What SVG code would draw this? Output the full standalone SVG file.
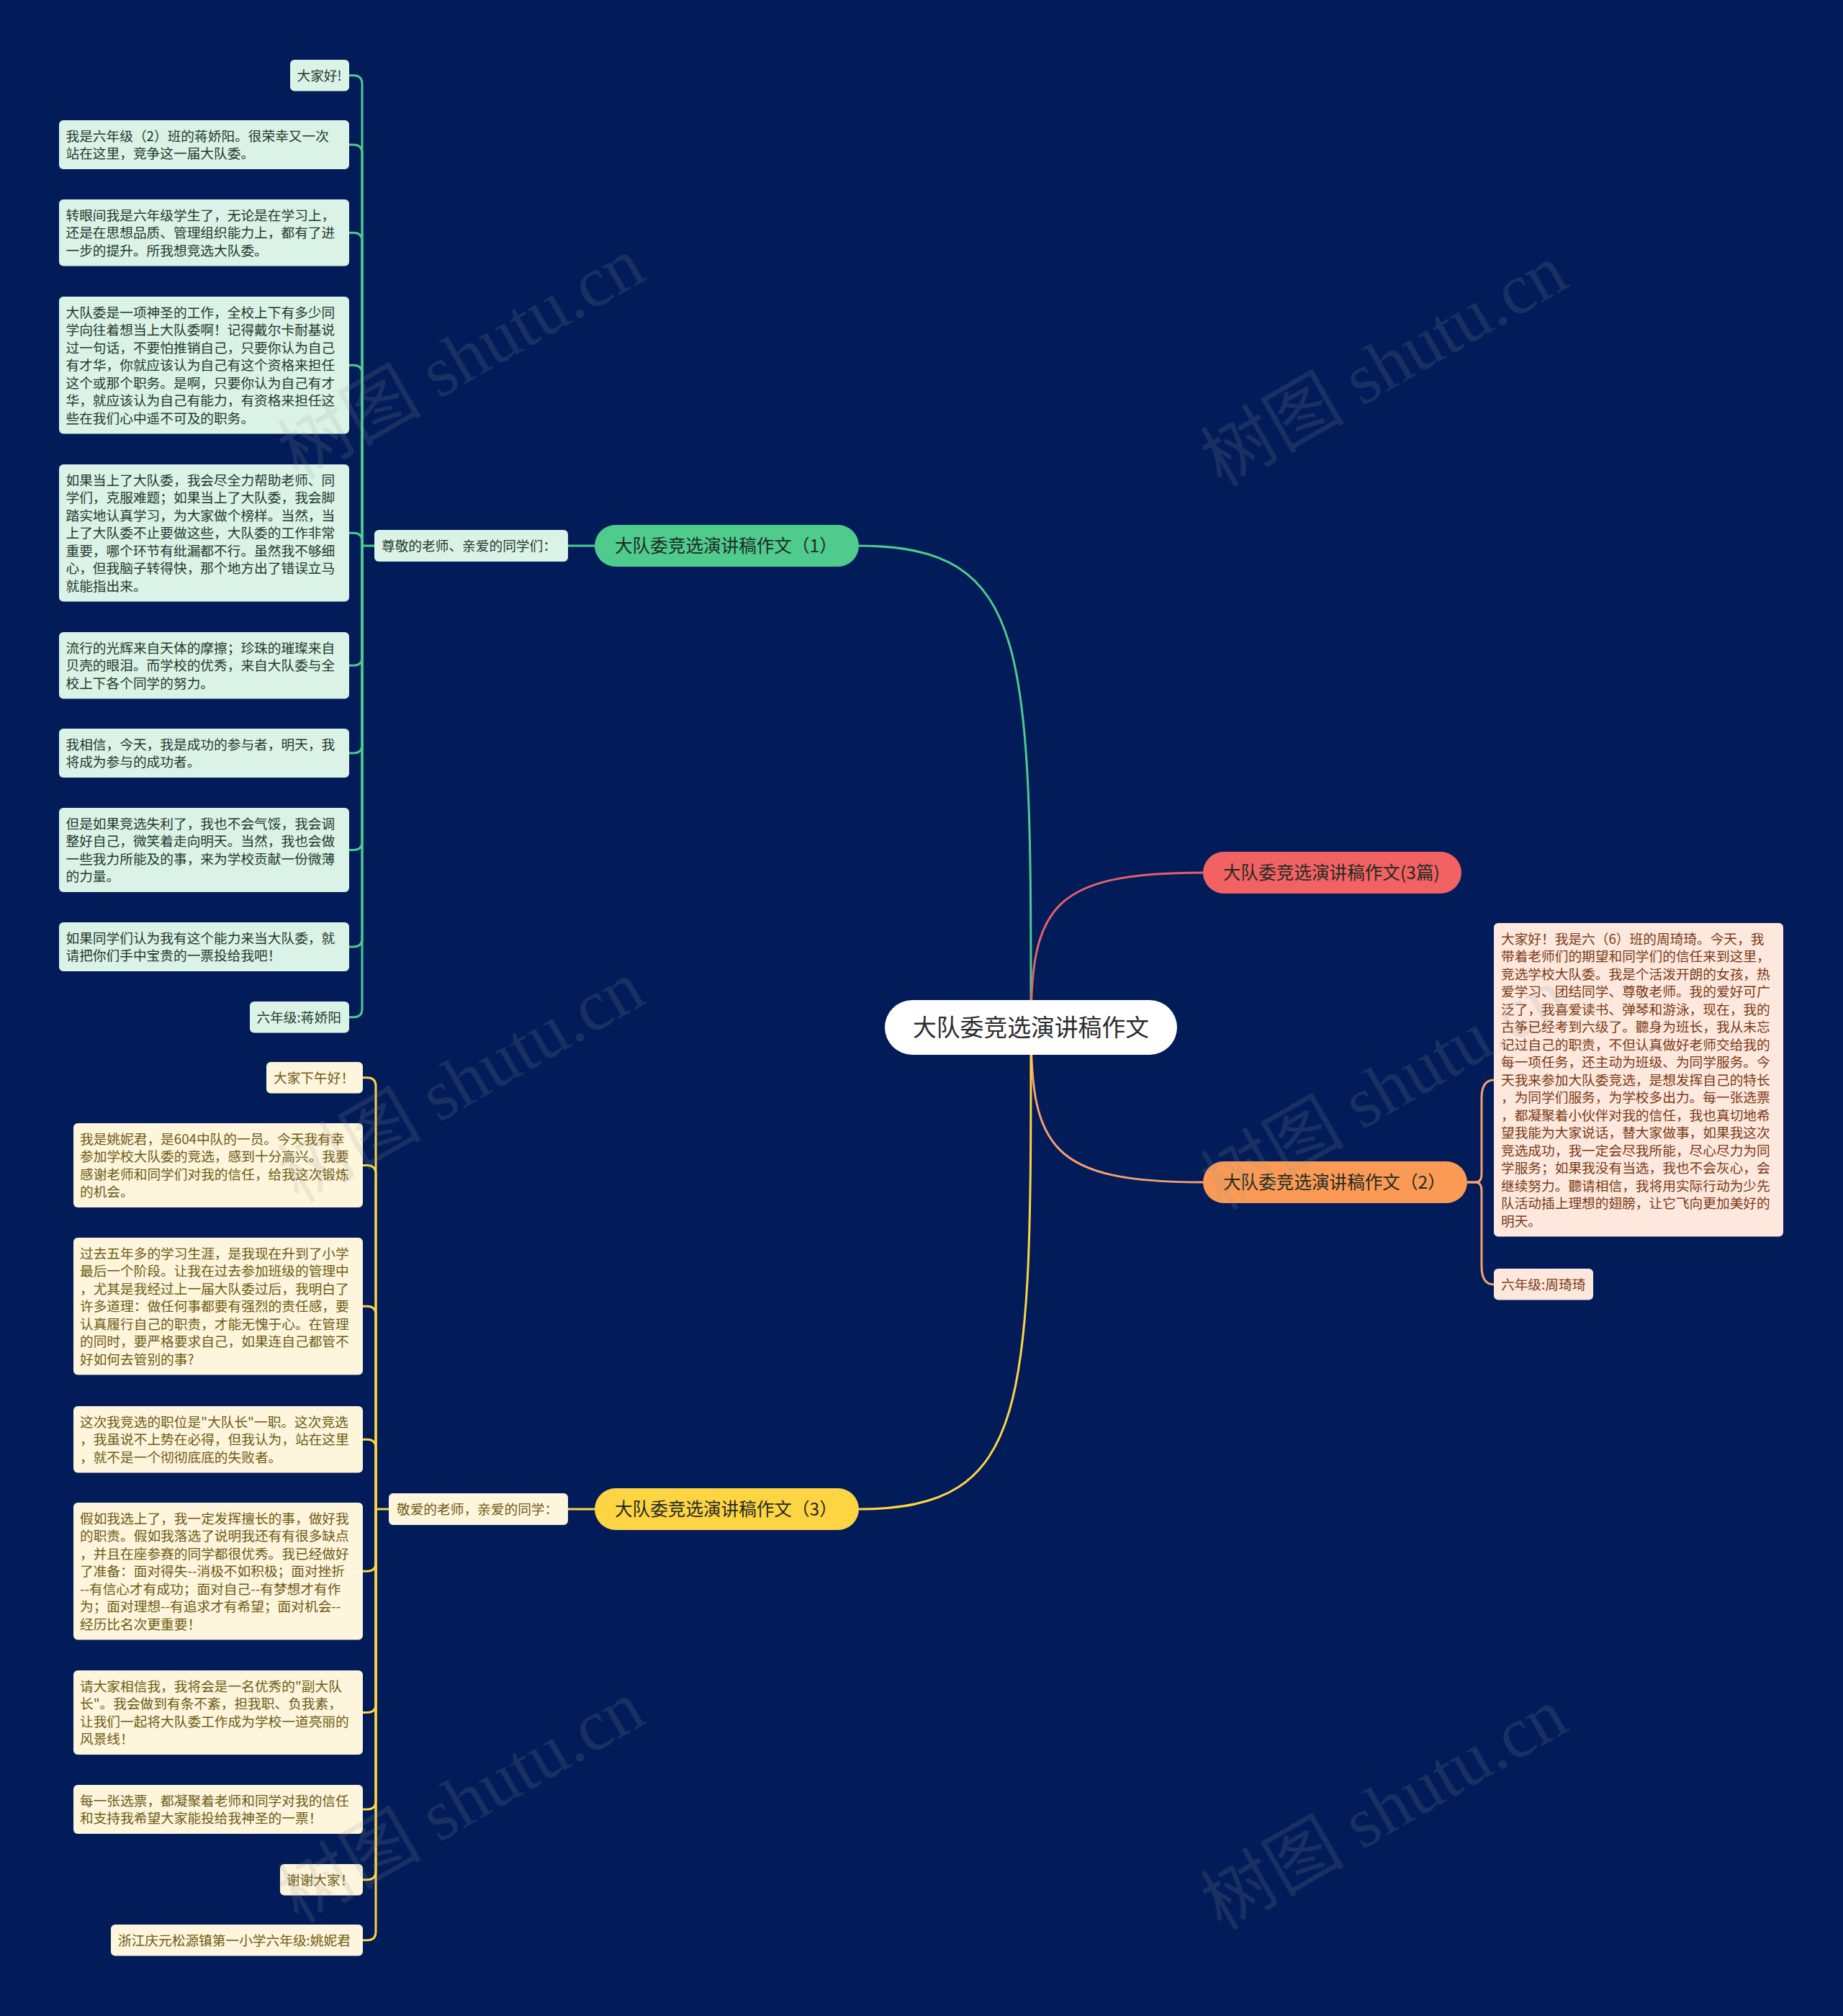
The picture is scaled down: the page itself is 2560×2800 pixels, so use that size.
<svg xmlns="http://www.w3.org/2000/svg" width="2560" height="2800" viewBox="0 0 2560 2800">
<style>
text{font-family:"Noto Sans CJK SC","Noto Sans",sans-serif;}
.leaf{font-size:18.7px;}
.g-box{fill:#dbf3e6;}
.g-txt{fill:#24382c;}
.y-box{fill:#fdf6dc;}
.y-txt{fill:#6f5a14;}
.o-box{fill:#fde8de;}
.o-txt{fill:#7b3a13;}
.branch{font-size:24.6px;fill:#1f2a24;}
.con{fill:none;stroke-width:3;stroke-linecap:round;}
.cg{stroke:#4ecb8d;}
.cy{stroke:#fdd442;}
.co{stroke:#f7a06c;}
.cp{stroke:#e4606a;}
.wm{font-size:100px;fill:#9a9a9a;opacity:0.16;font-family:"Liberation Serif","Noto Sans CJK SC",serif;}
</style>
<rect width="2560" height="2800" fill="#011c58"/>

<g id="connectors">
  <path class="con cg" d="M1432,1427 C1432,900 1432,758 1193,758"/>
  <path class="con cp" d="M1432,1427 C1432,1260 1460,1212 1671,1212"/>
  <path class="con co" d="M1432,1427 C1432,1594 1460,1642 1671,1642"/>
  <path class="con cy" d="M1432,1427 C1432,1954 1432,2096 1193,2096"/>

  <path class="con cg" d="M826,758 H789"/>
  <path class="con cg" d="M520,758 H503"/>
  <path class="con cg" d="M503,758 V116.75 Q503,104.75 491,104.75 H485"/>
  <path class="con cg" d="M503,758 V213 Q503,201 491,201 H485"/>
  <path class="con cg" d="M503,758 V335.25 Q503,323.25 491,323.25 H485"/>
  <path class="con cg" d="M503,758 V519.25 Q503,507.25 491,507.25 H485"/>
  <path class="con cg" d="M503,758 V752.25 Q503,740.25 491,740.25 H485"/>
  <path class="con cg" d="M503,758 V912.25 Q503,924.25 491,924.25 H485"/>
  <path class="con cg" d="M503,758 V1034 Q503,1046 491,1046 H485"/>
  <path class="con cg" d="M503,758 V1168.5 Q503,1180.5 491,1180.5 H485"/>
  <path class="con cg" d="M503,758 V1303 Q503,1315 491,1315 H485"/>
  <path class="con cg" d="M503,758 V1400.75 Q503,1412.75 491,1412.75 H485"/>

  <path class="con co" d="M2038,1642 H2050 Q2058,1642 2058,1630 V1525 Q2058,1500 2075,1500"/>
  <path class="con co" d="M2038,1642 H2050 Q2058,1642 2058,1654 V1759 Q2058,1784 2075,1784"/>

  <path class="con cy" d="M826,2096 H789"/>
  <path class="con cy" d="M540,2096 H522"/>
  <path class="con cy" d="M522,2096 V1508.75 Q522,1496.75 510,1496.75 H504"/>
  <path class="con cy" d="M522,2096 V1630.5 Q522,1618.5 510,1618.5 H504"/>
  <path class="con cy" d="M522,2096 V1826.25 Q522,1814.25 510,1814.25 H504"/>
  <path class="con cy" d="M522,2096 V2011.25 Q522,1999.25 510,1999.25 H504"/>
  <path class="con cy" d="M522,2096 V2170.25 Q522,2182.25 510,2182.25 H504"/>
  <path class="con cy" d="M522,2096 V2366.5 Q522,2378.5 510,2378.5 H504"/>
  <path class="con cy" d="M522,2096 V2501 Q522,2513 510,2513 H504"/>
  <path class="con cy" d="M522,2096 V2598.75 Q522,2610.75 510,2610.75 H504"/>
  <path class="con cy" d="M522,2096 V2682.75 Q522,2694.75 510,2694.75 H504"/>
</g>

<g id="center">
  <rect x="1229" y="1389" width="406" height="76" rx="38" fill="#ffffff"/>
  <text x="1432" y="1439" text-anchor="middle" font-size="32.8" fill="#2b2b2b">大队委竞选演讲稿作文</text>
</g>

<g id="branch-1">
  <rect x="826" y="729" width="367" height="58" rx="29" fill="#4ecb8d"/>
  <text class="branch" x="854" y="767">大队委竞选演讲稿作文（1）</text>
</g>
<g id="branch-3pian">
  <rect x="1671" y="1183" width="359" height="58" rx="29" fill="#f26262"/>
  <text class="branch" x="1699" y="1221">大队委竞选演讲稿作文(3篇)</text>
</g>
<g id="branch-2">
  <rect x="1671" y="1613" width="367" height="58" rx="29" fill="#fa9a54"/>
  <text class="branch" x="1699" y="1651">大队委竞选演讲稿作文（2）</text>
</g>
<g id="branch-3">
  <rect x="826" y="2067" width="367" height="58" rx="29" fill="#fdd442"/>
  <text class="branch" x="854" y="2105">大队委竞选演讲稿作文（3）</text>
</g>

<g id="label-1">
  <rect class="g-box" x="520" y="736" width="269" height="44" rx="6"/>
  <text class="leaf g-txt" x="530" y="765">尊敬的老师、亲爱的同学们：</text>
</g>
<g id="label-3">
  <rect class="y-box" x="540" y="2074" width="249" height="44" rx="6"/>
  <text class="leaf y-txt" x="551" y="2103">敬爱的老师，亲爱的同学：</text>
</g>

<g id="g-leaf-1">
  <rect class="g-box" x="403" y="83" width="82" height="43.5" rx="6"/>
  <text class="leaf g-txt" x="412.5" y="111.75">大家好!</text>
</g>
<g id="g-leaf-2">
  <rect class="g-box" x="82" y="167" width="403" height="68" rx="6"/>
  <text class="leaf g-txt" x="91.5" y="195.75"><tspan x="91.5">我是六年级（2）班的蒋娇阳。很荣幸又一次</tspan><tspan x="91.5" dy="24.5">站在这里，竞争这一届大队委。</tspan></text>
</g>
<g id="g-leaf-3">
  <rect class="g-box" x="82" y="277" width="403" height="92.5" rx="6"/>
  <text class="leaf g-txt" x="91.5" y="305.75"><tspan x="91.5">转眼间我是六年级学生了，无论是在学习上，</tspan><tspan x="91.5" dy="24.5">还是在思想品质、管理组织能力上，都有了进</tspan><tspan x="91.5" dy="24.5">一步的提升。所我想竞选大队委。</tspan></text>
</g>
<g id="g-leaf-4">
  <rect class="g-box" x="82" y="412" width="403" height="190.5" rx="6"/>
  <text class="leaf g-txt" x="91.5" y="440.75"><tspan x="91.5">大队委是一项神圣的工作，全校上下有多少同</tspan><tspan x="91.5" dy="24.5">学向往着想当上大队委啊！记得戴尔卡耐基说</tspan><tspan x="91.5" dy="24.5">过一句话，不要怕推销自己，只要你认为自己</tspan><tspan x="91.5" dy="24.5">有才华，你就应该认为自己有这个资格来担任</tspan><tspan x="91.5" dy="24.5">这个或那个职务。是啊，只要你认为自己有才</tspan><tspan x="91.5" dy="24.5">华，就应该认为自己有能力，有资格来担任这</tspan><tspan x="91.5" dy="24.5">些在我们心中遥不可及的职务。</tspan></text>
</g>
<g id="g-leaf-5">
  <rect class="g-box" x="82" y="645" width="403" height="190.5" rx="6"/>
  <text class="leaf g-txt" x="91.5" y="673.75"><tspan x="91.5">如果当上了大队委，我会尽全力帮助老师、同</tspan><tspan x="91.5" dy="24.5">学们，克服难题；如果当上了大队委，我会脚</tspan><tspan x="91.5" dy="24.5">踏实地认真学习，为大家做个榜样。当然，当</tspan><tspan x="91.5" dy="24.5">上了大队委不止要做这些，大队委的工作非常</tspan><tspan x="91.5" dy="24.5">重要，哪个环节有纰漏都不行。虽然我不够细</tspan><tspan x="91.5" dy="24.5">心，但我脑子转得快，那个地方出了错误立马</tspan><tspan x="91.5" dy="24.5">就能指出来。</tspan></text>
</g>
<g id="g-leaf-6">
  <rect class="g-box" x="82" y="878" width="403" height="92.5" rx="6"/>
  <text class="leaf g-txt" x="91.5" y="906.75"><tspan x="91.5">流行的光辉来自天体的摩擦；珍珠的璀璨来自</tspan><tspan x="91.5" dy="24.5">贝壳的眼泪。而学校的优秀，来自大队委与全</tspan><tspan x="91.5" dy="24.5">校上下各个同学的努力。</tspan></text>
</g>
<g id="g-leaf-7">
  <rect class="g-box" x="82" y="1012" width="403" height="68" rx="6"/>
  <text class="leaf g-txt" x="91.5" y="1040.75"><tspan x="91.5">我相信，今天，我是成功的参与者，明天，我</tspan><tspan x="91.5" dy="24.5">将成为参与的成功者。</tspan></text>
</g>
<g id="g-leaf-8">
  <rect class="g-box" x="82" y="1122" width="403" height="117" rx="6"/>
  <text class="leaf g-txt" x="91.5" y="1150.75"><tspan x="91.5">但是如果竞选失利了，我也不会气馁，我会调</tspan><tspan x="91.5" dy="24.5">整好自己，微笑着走向明天。当然，我也会做</tspan><tspan x="91.5" dy="24.5">一些我力所能及的事，来为学校贡献一份微薄</tspan><tspan x="91.5" dy="24.5">的力量。</tspan></text>
</g>
<g id="g-leaf-9">
  <rect class="g-box" x="82" y="1281" width="403" height="68" rx="6"/>
  <text class="leaf g-txt" x="91.5" y="1309.75"><tspan x="91.5">如果同学们认为我有这个能力来当大队委，就</tspan><tspan x="91.5" dy="24.5">请把你们手中宝贵的一票投给我吧！</tspan></text>
</g>
<g id="g-leaf-10">
  <rect class="g-box" x="347" y="1391" width="138" height="43.5" rx="6"/>
  <text class="leaf g-txt" x="356.5" y="1419.75">六年级:蒋娇阳</text>
</g>

<g id="o-leaf-1">
  <rect class="o-box" x="2075" y="1282" width="402" height="435.5" rx="6"/>
  <text class="leaf o-txt" x="2085" y="1310.75"><tspan x="2085">大家好！我是六（6）班的周琦琦。今天，我</tspan><tspan x="2085" dy="24.5">带着老师们的期望和同学们的信任来到这里，</tspan><tspan x="2085" dy="24.5">竞选学校大队委。我是个活泼开朗的女孩，热</tspan><tspan x="2085" dy="24.5">爱学习、团结同学、尊敬老师。我的爱好可广</tspan><tspan x="2085" dy="24.5">泛了，我喜爱读书、弹琴和游泳，现在，我的</tspan><tspan x="2085" dy="24.5">古筝已经考到六级了。聽身为班长，我从未忘</tspan><tspan x="2085" dy="24.5">记过自己的职责，不但认真做好老师交给我的</tspan><tspan x="2085" dy="24.5">每一项任务，还主动为班级、为同学服务。今</tspan><tspan x="2085" dy="24.5">天我来参加大队委竞选，是想发挥自己的特长</tspan><tspan x="2085" dy="24.5">，为同学们服务，为学校多出力。每一张选票</tspan><tspan x="2085" dy="24.5">，都凝聚着小伙伴对我的信任，我也真切地希</tspan><tspan x="2085" dy="24.5">望我能为大家说话，替大家做事，如果我这次</tspan><tspan x="2085" dy="24.5">竞选成功，我一定会尽我所能，尽心尽力为同</tspan><tspan x="2085" dy="24.5">学服务；如果我没有当选，我也不会灰心，会</tspan><tspan x="2085" dy="24.5">继续努力。聽请相信，我将用实际行动为少先</tspan><tspan x="2085" dy="24.5">队活动插上理想的翅膀，让它飞向更加美好的</tspan><tspan x="2085" dy="24.5">明天。</tspan></text>
</g>
<g id="o-leaf-2">
  <rect class="o-box" x="2075" y="1762" width="138" height="43.5" rx="6"/>
  <text class="leaf o-txt" x="2085" y="1790.75">六年级:周琦琦</text>
</g>

<g id="y-leaf-1">
  <rect class="y-box" x="370" y="1475" width="134" height="43.5" rx="6"/>
  <text class="leaf y-txt" x="380" y="1503.75">大家下午好！</text>
</g>
<g id="y-leaf-2">
  <rect class="y-box" x="102" y="1560" width="402" height="117" rx="6"/>
  <text class="leaf y-txt" x="111" y="1588.75"><tspan x="111">我是姚妮君，是604中队的一员。今天我有幸</tspan><tspan x="111" dy="24.5">参加学校大队委的竞选，感到十分高兴。我要</tspan><tspan x="111" dy="24.5">感谢老师和同学们对我的信任，给我这次锻炼</tspan><tspan x="111" dy="24.5">的机会。</tspan></text>
</g>
<g id="y-leaf-3">
  <rect class="y-box" x="102" y="1719" width="402" height="190.5" rx="6"/>
  <text class="leaf y-txt" x="111" y="1747.75"><tspan x="111">过去五年多的学习生涯，是我现在升到了小学</tspan><tspan x="111" dy="24.5">最后一个阶段。让我在过去参加班级的管理中</tspan><tspan x="111" dy="24.5">，尤其是我经过上一届大队委过后，我明白了</tspan><tspan x="111" dy="24.5">许多道理：做任何事都要有强烈的责任感，要</tspan><tspan x="111" dy="24.5">认真履行自己的职责，才能无愧于心。在管理</tspan><tspan x="111" dy="24.5">的同时，要严格要求自己，如果连自己都管不</tspan><tspan x="111" dy="24.5">好如何去管别的事?</tspan></text>
</g>
<g id="y-leaf-4">
  <rect class="y-box" x="102" y="1953" width="402" height="92.5" rx="6"/>
  <text class="leaf y-txt" x="111" y="1981.75"><tspan x="111">这次我竞选的职位是"大队长"一职。这次竞选</tspan><tspan x="111" dy="24.5">，我虽说不上势在必得，但我认为，站在这里</tspan><tspan x="111" dy="24.5">，就不是一个彻彻底底的失败者。</tspan></text>
</g>
<g id="y-leaf-5">
  <rect class="y-box" x="102" y="2087" width="402" height="190.5" rx="6"/>
  <text class="leaf y-txt" x="111" y="2115.75"><tspan x="111">假如我选上了，我一定发挥擅长的事，做好我</tspan><tspan x="111" dy="24.5">的职责。假如我落选了说明我还有有很多缺点</tspan><tspan x="111" dy="24.5">，并且在座参赛的同学都很优秀。我已经做好</tspan><tspan x="111" dy="24.5">了准备：面对得失--消极不如积极；面对挫折</tspan><tspan x="111" dy="24.5">--有信心才有成功；面对自己--有梦想才有作</tspan><tspan x="111" dy="24.5">为；面对理想--有追求才有希望；面对机会--</tspan><tspan x="111" dy="24.5">经历比名次更重要！</tspan></text>
</g>
<g id="y-leaf-6">
  <rect class="y-box" x="102" y="2320" width="402" height="117" rx="6"/>
  <text class="leaf y-txt" x="111" y="2348.75"><tspan x="111">请大家相信我，我将会是一名优秀的"副大队</tspan><tspan x="111" dy="24.5">长"。我会做到有条不紊，担我职、负我素，</tspan><tspan x="111" dy="24.5">让我们一起将大队委工作成为学校一道亮丽的</tspan><tspan x="111" dy="24.5">风景线！</tspan></text>
</g>
<g id="y-leaf-7">
  <rect class="y-box" x="102" y="2479" width="402" height="68" rx="6"/>
  <text class="leaf y-txt" x="111" y="2507.75"><tspan x="111">每一张选票，都凝聚着老师和同学对我的信任</tspan><tspan x="111" dy="24.5">和支持我希望大家能投给我神圣的一票！</tspan></text>
</g>
<g id="y-leaf-8">
  <rect class="y-box" x="389" y="2589" width="115" height="43.5" rx="6"/>
  <text class="leaf y-txt" x="398" y="2617.75">谢谢大家！</text>
</g>
<g id="y-leaf-9">
  <rect class="y-box" x="154" y="2673" width="350" height="43.5" rx="6"/>
  <text class="leaf y-txt" x="164" y="2701.75">浙江庆元松源镇第一小学六年级:姚妮君</text>
</g>

<g id="watermarks">
  <text class="wm" x="645" y="530" text-anchor="middle" transform="rotate(-30 645 505)">树图 shutu.cn</text>
  <text class="wm" x="1927" y="540" text-anchor="middle" transform="rotate(-30 1927 515)">树图 shutu.cn</text>
  <text class="wm" x="645" y="1535" text-anchor="middle" transform="rotate(-30 645 1510)">树图 shutu.cn</text>
  <text class="wm" x="1927" y="1545" text-anchor="middle" transform="rotate(-30 1927 1520)">树图 shutu.cn</text>
  <text class="wm" x="645" y="2535" text-anchor="middle" transform="rotate(-30 645 2510)">树图 shutu.cn</text>
  <text class="wm" x="1927" y="2545" text-anchor="middle" transform="rotate(-30 1927 2520)">树图 shutu.cn</text>
</g>
</svg>
